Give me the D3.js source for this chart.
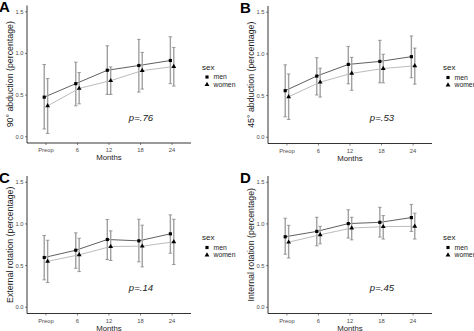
<!DOCTYPE html>
<meta charset="utf-8">
<script src="https://cdn.jsdelivr.net/npm/d3@7"></script>
<style>
body { margin: 0; background: #fff; }
svg { font-family: "Liberation Sans", Arial, sans-serif; }
.tick-label { fill: #4d4d4d; font-size: 5.8px; }
.axis-title { fill: #1a1a1a; font-size: 8.8px; }
.legend-title { fill: #1a1a1a; font-size: 8px; }
.legend-label { fill: #1a1a1a; font-size: 6.8px; }
.pval { fill: #1a1a1a; font-size: 9.6px; font-style: italic; }
.panel-letter { fill: #000; font-size: 15px; font-weight: bold; }
</style>
<body>
<script>

// time points on the x axis
var months = ["Preop", "6", "12", "18", "24"];
var yTicks = [0, 0.5, 1.0, 1.5];

// A: 90 deg abduction
var abd90Men      = [0.475, 0.637, 0.798, 0.855, 0.915];
var abd90MenLo    = [0.093, 0.371, 0.508, 0.536, 0.637];
var abd90MenHi    = [0.867, 0.895, 1.092, 1.169, 1.200];
var abd90Women    = [0.371, 0.580, 0.673, 0.794, 0.843];
var abd90WomenLo  = [0.040, 0.395, 0.508, 0.572, 0.608];
var abd90WomenHi  = [0.698, 0.770, 0.838, 1.012, 1.072];

// B: 45 deg abduction
var abd45Men      = [0.559, 0.734, 0.874, 0.910, 0.967];
var abd45MenLo    = [0.245, 0.507, 0.641, 0.653, 0.714];
var abd45MenHi    = [0.869, 0.955, 1.090, 1.163, 1.216];
var abd45Women    = [0.486, 0.661, 0.767, 0.825, 0.857];
var abd45WomenLo  = [0.213, 0.482, 0.563, 0.653, 0.637];
var abd45WomenHi  = [0.759, 0.829, 0.959, 0.996, 1.070];

// C: external rotation
var extMen        = [0.597, 0.684, 0.813, 0.797, 0.881];
var extMenLo      = [0.329, 0.468, 0.573, 0.545, 0.648];
var extMenHi      = [0.861, 0.893, 1.053, 1.056, 1.109];
var extWomen      = [0.552, 0.629, 0.729, 0.733, 0.785];
var extWomenLo    = [0.296, 0.428, 0.561, 0.485, 0.513];
var extWomenHi    = [0.804, 0.828, 0.917, 0.985, 1.056];

// D: internal rotation
var intMen        = [0.846, 0.910, 1.004, 1.019, 1.076];
var intMenLo      = [0.636, 0.737, 0.830, 0.842, 0.910];
var intMenHi      = [1.068, 1.080, 1.170, 1.200, 1.234];
var intWomen      = [0.781, 0.870, 0.951, 0.967, 0.971];
var intWomenLo    = [0.591, 0.761, 0.809, 0.818, 0.818];
var intWomenHi    = [0.983, 0.971, 1.080, 1.100, 1.129];

var sexes = ["men", "women"];

var panels = [
  {letter: "A", ytitle: "90\u00b0 abduction (percentage)", p: "p=.76", dx: 0, dy: 0,
   men: [abd90Men, abd90MenLo, abd90MenHi], women: [abd90Women, abd90WomenLo, abd90WomenHi]},
  {letter: "B", ytitle: "45\u00b0 abduction (percentage)", p: "p=.53", dx: 241, dy: 0.5,
   men: [abd45Men, abd45MenLo, abd45MenHi], women: [abd45Women, abd45WomenLo, abd45WomenHi]},
  {letter: "C", ytitle: "External rotation (percentage)", p: "p=.14", dx: 0, dy: 170.5,
   men: [extMen, extMenLo, extMenHi], women: [extWomen, extWomenLo, extWomenHi]},
  {letter: "D", ytitle: "Internal rotation (percentage)", p: "p=.45", dx: 241, dy: 170.5,
   men: [intMen, intMenLo, intMenHi], women: [intWomen, intWomenLo, intWomenHi]}
];

var width = 474, height = 331;

var svg = d3.select("body").append("svg")
    .attr("width", width)
    .attr("height", height);

// panel geometry (local coords)
var pLeft = 27, pRight = 191, pTop = 5.5, pBottom = 143;

var x = d3.scalePoint()
    .domain(months)
    .range([pLeft, pRight])
    .padding(0.6);

var y = d3.scaleLinear()
    .domain([-0.075, 1.575])
    .range([pBottom, pTop]);

var dodge = {men: -1.7, women: 1.7};
var lineColor = {men: "#4d4d4d", women: "#b3b3b3"};

var symSquare = d3.symbol().type(d3.symbolSquare).size(10);
var symTri = d3.symbol().type(d3.symbolTriangle).size(10);

panels.forEach(function(pn) {
  var g = svg.append("g")
      .attr("transform", "translate(" + pn.dx + "," + pn.dy + ")");

  // letter
  g.append("text").attr("class", "panel-letter")
      .attr("x", -1).attr("y", 12)
      .text(pn.letter);

  // series
  sexes.forEach(function(s) {
    var arr = pn[s];
    var pts = months.map(function(m, i) {
      return {m: m, v: arr[0][i], lo: arr[1][i], hi: arr[2][i]};
    });
    var px = function(d) { return x(d.m) + dodge[s]; };

    var line = d3.line().x(px).y(function(d) { return y(d.v); });
    g.append("path")
        .datum(pts)
        .attr("d", line)
        .attr("fill", "none")
        .attr("stroke", lineColor[s])
        .attr("stroke-width", 0.9);

    var eb = g.append("g").selectAll("g")
        .data(pts)
        .enter().append("g");
    eb.append("line")
        .attr("x1", px).attr("x2", px)
        .attr("y1", function(d) { return y(d.lo); })
        .attr("y2", function(d) { return y(d.hi); })
        .attr("stroke", "#a0a0a0")
        .attr("stroke-width", 1.4);
    ["lo", "hi"].forEach(function(k) {
      eb.append("line")
          .attr("x1", function(d) { return px(d) - 1.8; })
          .attr("x2", function(d) { return px(d) + 1.8; })
          .attr("y1", function(d) { return y(d[k]); })
          .attr("y2", function(d) { return y(d[k]); })
          .attr("stroke", "#7a7a7a")
          .attr("stroke-width", 0.7);
    });

    g.append("g").selectAll("path")
        .data(pts)
        .enter().append("path")
        .attr("d", s == "men" ? symSquare : symTri)
        .attr("transform", function(d) {
          return "translate(" + px(d) + "," + y(d.v) + ")";
        })
        .attr("fill", "#000");
  });

  // axes
  g.append("line")
      .attr("x1", pLeft).attr("x2", pLeft)
      .attr("y1", pTop).attr("y2", pBottom)
      .attr("stroke", "#000").attr("stroke-width", 0.8);
  g.append("line")
      .attr("x1", pLeft).attr("x2", pRight)
      .attr("y1", pBottom).attr("y2", pBottom)
      .attr("stroke", "#000").attr("stroke-width", 0.8);

  yTicks.forEach(function(t) {
    g.append("line")
        .attr("x1", pLeft - 2).attr("x2", pLeft)
        .attr("y1", y(t)).attr("y2", y(t))
        .attr("stroke", "#333").attr("stroke-width", 0.6);
    g.append("text").attr("class", "tick-label")
        .attr("x", pLeft - 3.5).attr("y", y(t))
        .attr("dy", "0.35em")
        .attr("text-anchor", "end")
        .text(d3.format(".1f")(t));
  });

  months.forEach(function(m) {
    g.append("line")
        .attr("x1", x(m)).attr("x2", x(m))
        .attr("y1", pBottom).attr("y2", pBottom + 2)
        .attr("stroke", "#333").attr("stroke-width", 0.6);
    g.append("text").attr("class", "tick-label")
        .attr("x", x(m)).attr("y", pBottom + 9)
        .attr("text-anchor", "middle")
        .text(m);
  });

  g.append("text").attr("class", "axis-title")
      .attr("text-anchor", "middle")
      .attr("transform", "translate(13," + ((pTop + pBottom) / 2) + ") rotate(-90)")
      .text(pn.ytitle);

  g.append("text").attr("class", "axis-title")
      .attr("x", (pLeft + pRight) / 2).attr("y", pBottom + 17)
      .attr("text-anchor", "middle")
      .style("font-size", "7.8px")
      .text("Months");

  g.append("text").attr("class", "pval")
      .attr("x", 141).attr("y", 120.5)
      .attr("text-anchor", "middle")
      .text(pn.p);

  // legend
  var lg = g.append("g").attr("transform", "translate(201,0)");
  lg.append("text").attr("class", "legend-title")
      .attr("x", 1).attr("y", 69.5)
      .text("sex");
  sexes.forEach(function(s, i) {
    var ky = 77 + i * 7.5;
    lg.append("path")
        .attr("d", s == "men" ? symSquare : symTri)
        .attr("transform", "translate(6," + ky + ")")
        .attr("fill", "#000");
    lg.append("text").attr("class", "legend-label")
        .attr("x", 12.5).attr("y", ky)
        .attr("dy", "0.35em")
        .text(s);
  });
});

</script>
</body>
